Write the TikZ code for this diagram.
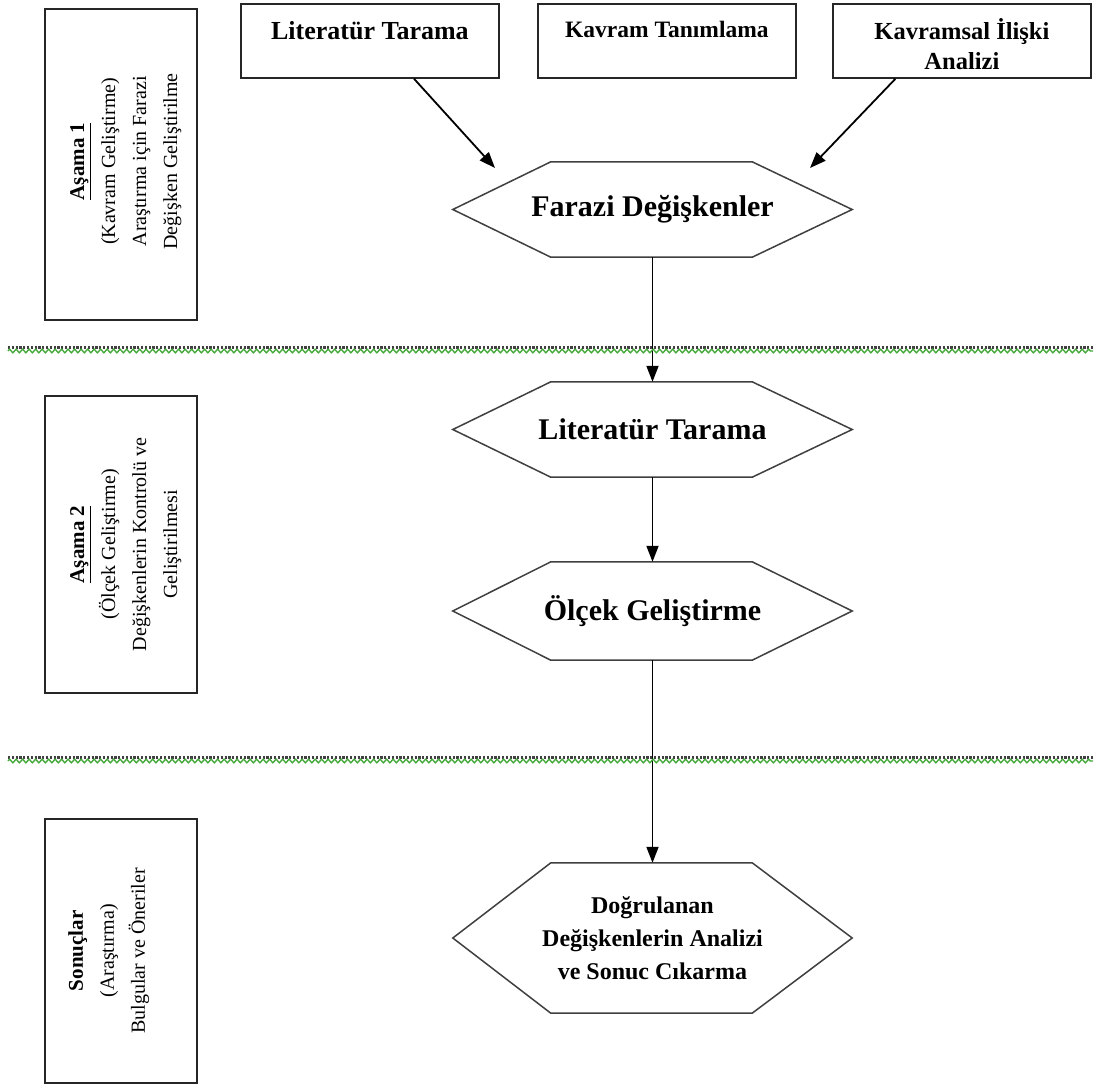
\documentclass[tikz,border=0pt]{standalone}
\usepackage{fontspec}
\setmainfont{Liberation Serif}
\usetikzlibrary{arrows.meta,decorations.pathmorphing,calc}
\newcommand\hexdraw[1]{\draw[hexline] (#1.west) -- ($(#1.north west)+(98,0)$) -- ($(#1.north east)+(-100,0)$) -- (#1.east) -- ($(#1.south east)+(-100,0)$) -- ($(#1.south west)+(98,0)$) -- cycle;}
\begin{document}
\begin{tikzpicture}[x=1pt,y=-1pt,
  boxline/.style={draw=black!85,line width=1.8pt},
  topbox/.style={boxline,anchor=north west,minimum width=258pt,minimum height=74pt,inner sep=0pt},
  toptext/.style={font=\bfseries\fontsize{26}{30}\selectfont,align=center,inner sep=0pt},
  leftbox/.style={boxline,anchor=north west,minimum width=152pt,inner sep=0pt},
  lefttext/.style={rotate=90,anchor=north,align=center,inner sep=0pt,font=\fontsize{20}{31}\selectfont},
  hexbox/.style={minimum width=399pt,inner sep=0pt,align=center},
  hextitle/.style={font=\bfseries\fontsize{30}{34}\selectfont},
  hexline/.style={draw=black!75,line width=1.5pt},
  arr/.style={draw=black,line width=1.8pt,-{Triangle[length=16pt,width=12pt]}},
  dotline/.style={draw=black!75,line width=3pt,dash pattern=on 2.2pt off 1.6pt},
  zigline/.style={draw={rgb,255:red,70;green,170;blue,60},line width=1.4pt,decorate,decoration={zigzag,segment length=6.5pt,amplitude=1.8pt}}
]
\useasboundingbox (0,0) rectangle (1096,1085);
\fill[white] (0,0) rectangle (1096,1085);

% top boxes
\node[topbox] (t1) at (240,3) {};
\node[topbox] (t2) at (537,3) {};
\node[topbox] (t3) at (832,3) {};
\node[toptext] (t1l) at ($(t1.north)+(0,28)$) {Literatür Tarama};
\node[toptext,font=\bfseries\fontsize{23.5}{30}\selectfont] (t2l) at ($(t2.north)+(0,26)$) {Kavram Tanımlama};
\node[toptext,font=\bfseries\fontsize{24.5}{30}\selectfont] (t3l) at ($(t3.north)+(0,41)$) {Kavramsal İlişki\\Analizi};

% hexagons
\node[hexbox,minimum height=95pt,hextitle] (h1) at (652.5,209.5) {Farazi Değişkenler};
\node[hexbox,minimum height=95pt,hextitle] (h2) at (652.5,429.5) {Literatür Tarama};
\node[hexbox,minimum height=98pt,hextitle] (h3) at (652.5,611) {Ölçek Geliştirme};
\node[hexbox,minimum height=150pt,font=\bfseries\fontsize{24}{33}\selectfont] (h4) at (652.5,938) {Doğrulanan\\Değişkenlerin Analizi\\ve Sonuc Cıkarma};
\hexdraw{h1}
\hexdraw{h2}
\hexdraw{h3}
\hexdraw{h4}

% arrows
\coordinate (s1) at ($(t1.south west)!0.67!(t1.south east)$);
\coordinate (e1) at (495,168);
\coordinate (s3) at ($(t3.south west)!0.244!(t3.south east)$);
\coordinate (e3) at (810,168);
\draw[arr] (s1) -- (e1);
\draw[arr] (s3) -- (e3);
\draw[arr] (h1.south) -- (h2.north);
\draw[arr] (h2.south) -- (h3.north);
\draw[arr] (h3.south) -- (h4.north);

% dividers
\coordinate (d1a) at (8,347);
\coordinate (d1b) at (1093,347);
\coordinate (z1a) at (8,351);
\coordinate (z1b) at (1093,351);
\coordinate (d2a) at (8,757);
\coordinate (d2b) at (1093,757);
\coordinate (z2a) at (8,761);
\coordinate (z2b) at (1093,761);
\draw[dotline] (d1a) -- (d1b);
\draw[zigline] (z1a) -- (z1b);
\draw[dotline] (d2a) -- (d2b);
\draw[zigline] (z2a) -- (z2b);

% left boxes
\node[leftbox,minimum height=311pt] (la) at (44,8) {};
\node[leftbox,minimum height=297pt] (lb) at (44,395) {};
\node[leftbox,minimum height=264pt] (lc) at (44,818) {};
\node[lefttext] (lat) at ($(la.west)+(26,-3)$) {\textbf{\fontsize{21}{31}\selectfont\underline{Aşama 1}}\\(Kavram Geliştirme)\\Araştırma için Farazi\\Değişken Geliştirilme};
\node[lefttext] (lbt) at ($(lb.west)+(26,0)$) {\textbf{\fontsize{21}{31}\selectfont\underline{Aşama 2}}\\(Ölçek Geliştirme)\\Değişkenlerin Kontrolü ve\\Geliştirilmesi};
\node[lefttext] (lct) at ($(lc.west)+(24,0)$) {\textbf{\fontsize{21}{31}\selectfont Sonuçlar}\\(Araştırma)\\Bulgular ve Öneriler};
\end{tikzpicture}
\end{document}
